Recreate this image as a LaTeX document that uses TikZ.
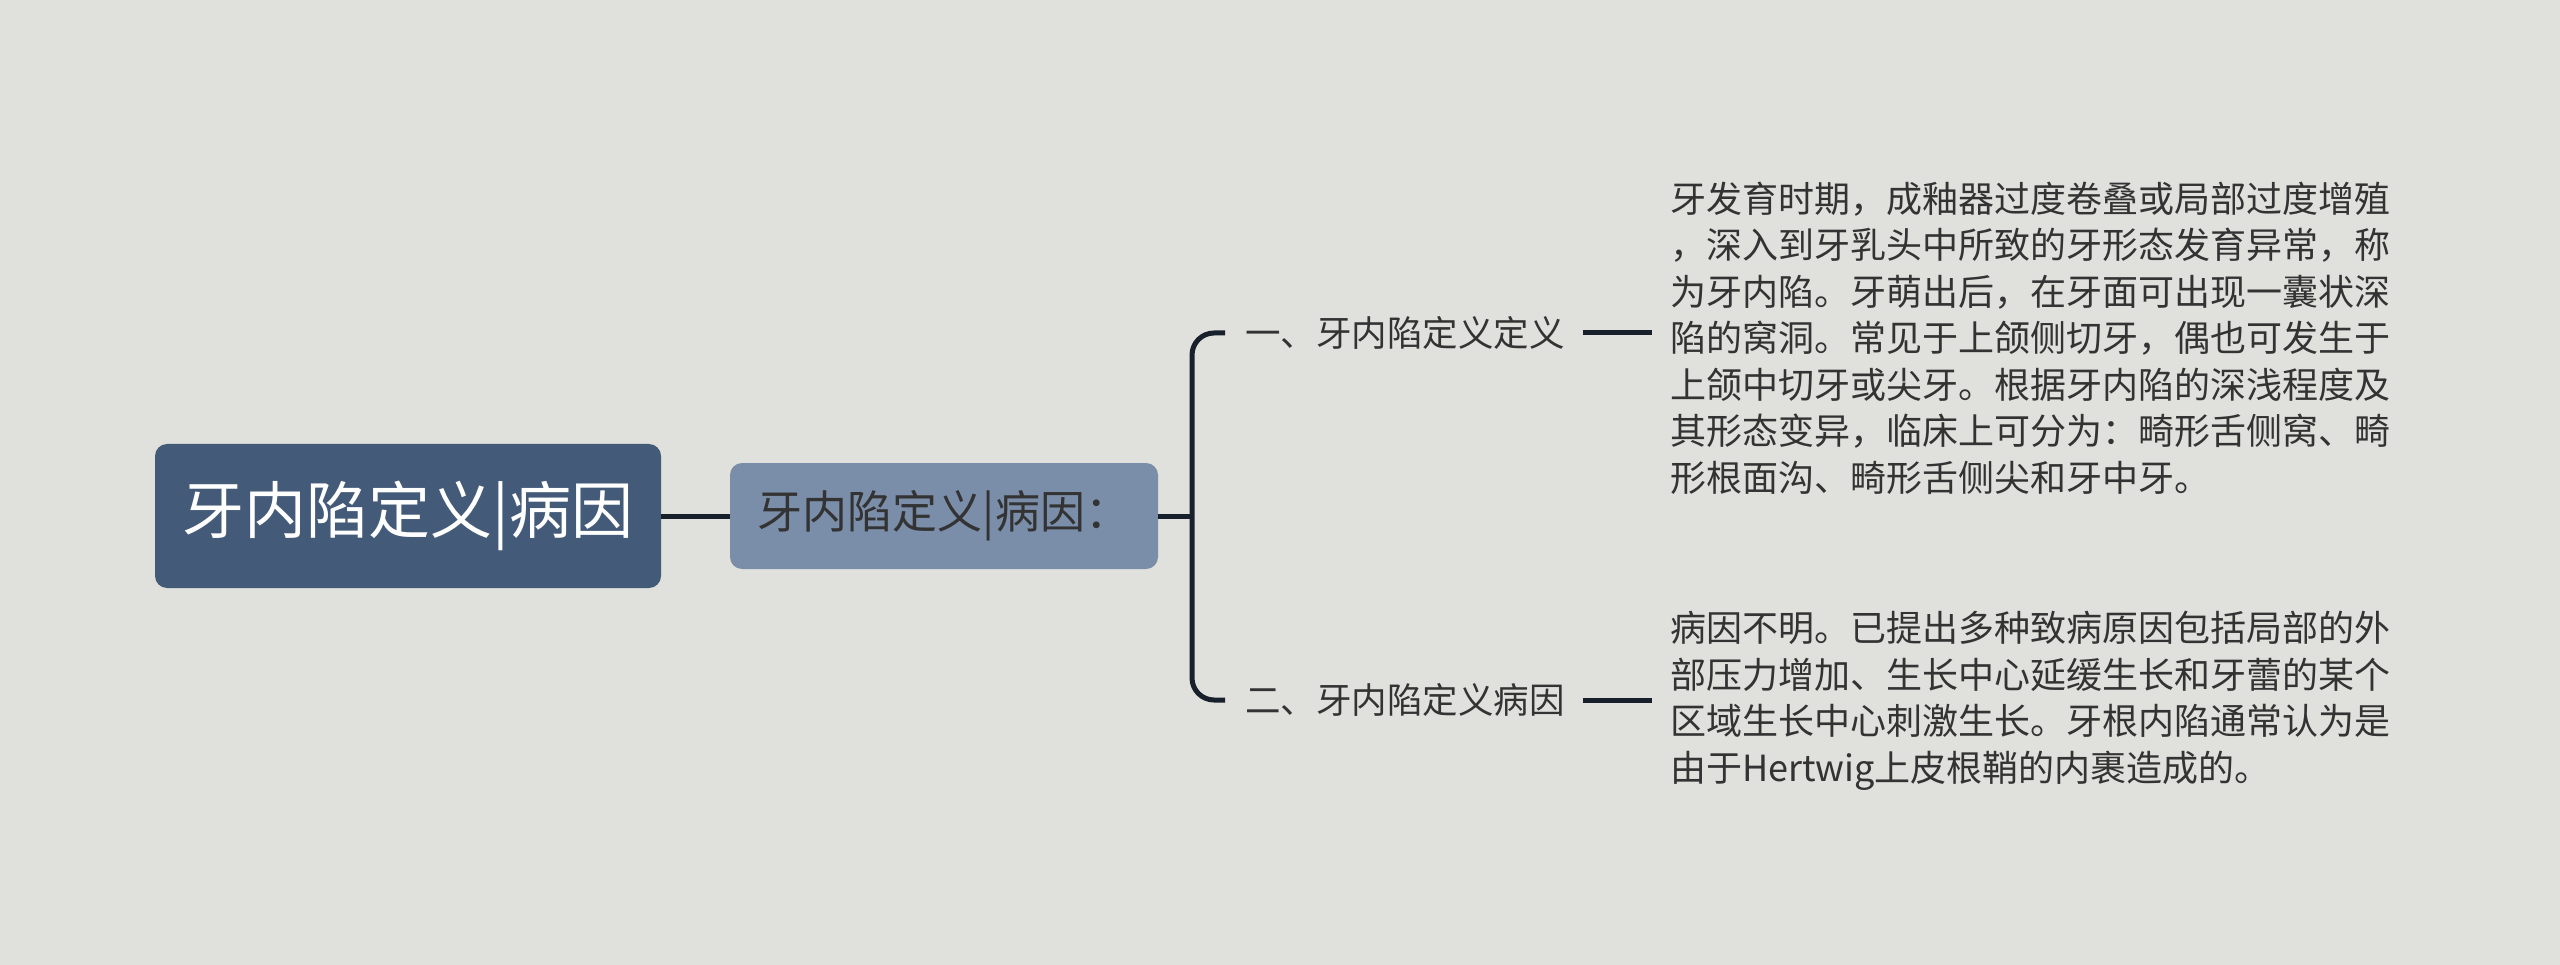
\documentclass[tikz,border=0pt]{standalone}
\usepackage{fontspec}
\setmainfont{Noto Sans CJK SC}
\definecolor{bg}{HTML}{E0E0DC}
\definecolor{rootfill}{HTML}{435A79}
\definecolor{subfill}{HTML}{7A8EAA}
\definecolor{linecol}{HTML}{18202C}
\definecolor{txt}{HTML}{333333}
\tikzset{
  rootbox/.style={fill=rootfill, rounded corners=12pt, minimum width=506pt, minimum height=144pt, text=white, font=\fontsize{62}{72}\selectfont, inner sep=0pt},
  subbox/.style={fill=subfill, rounded corners=12pt, minimum width=428pt, minimum height=106pt, text=txt, font=\fontsize{45}{54}\selectfont, inner sep=0pt},
  labelnode/.style={anchor=west, text=txt, font=\fontsize{35.5}{44}\selectfont, inner sep=0pt},
  paranode/.style={anchor=west, text=txt, font=\fontsize{36}{46.5}\selectfont, align=left, inner sep=0pt},
  conn/.style={draw=linecol, line width=5pt},
}
\begin{document}
\begin{tikzpicture}[x=1pt,y=-1pt]
\fill[bg] (0,0) rectangle (2560,965);
\useasboundingbox (0,0) rectangle (2560,965);
\node[rootbox] (root) at (408,516) {牙内陷定义|病因};
\node[subbox] (sub) at (944,516) {牙内陷定义|病因：};
\coordinate (j) at (1192,516);
\coordinate (t) at (1225,333);
\coordinate (b) at (1225,700);
\node[labelnode] (l1) at (1245,333) {一、牙内陷定义定义};
\node[labelnode] (l2) at (1245,700) {二、牙内陷定义病因};
\node[paranode] (p1) at (1670,338) {牙发育时期，成釉器过度卷叠或局部过度增殖\\，深入到牙乳头中所致的牙形态发育异常，称\\为牙内陷。牙萌出后，在牙面可出现一囊状深\\陷的窝洞。常见于上颌侧切牙，偶也可发生于\\上颌中切牙或尖牙。根据牙内陷的深浅程度及\\其形态变异，临床上可分为：畸形舌侧窝、畸\\形根面沟、畸形舌侧尖和牙中牙。};
\node[paranode] (p2) at (1670,701) {病因不明。已提出多种致病原因包括局部的外\\部压力增加、生长中心延缓生长和牙蕾的某个\\区域生长中心刺激生长。牙根内陷通常认为是\\由于Hertwig上皮根鞘的内裹造成的。};
\draw[conn] (root.east) -- (sub.west);
\draw[conn] (sub.east) -- (j);
\draw[conn, rounded corners=22pt] (t) -| (j) |- (b);
\draw[conn] ([xshift=18pt]l1.east) -- ([xshift=-18pt]p1.west |- l1.east);
\draw[conn] ([xshift=18pt]l2.east) -- ([xshift=-18pt]p2.west |- l2.east);
\end{tikzpicture}
\end{document}
